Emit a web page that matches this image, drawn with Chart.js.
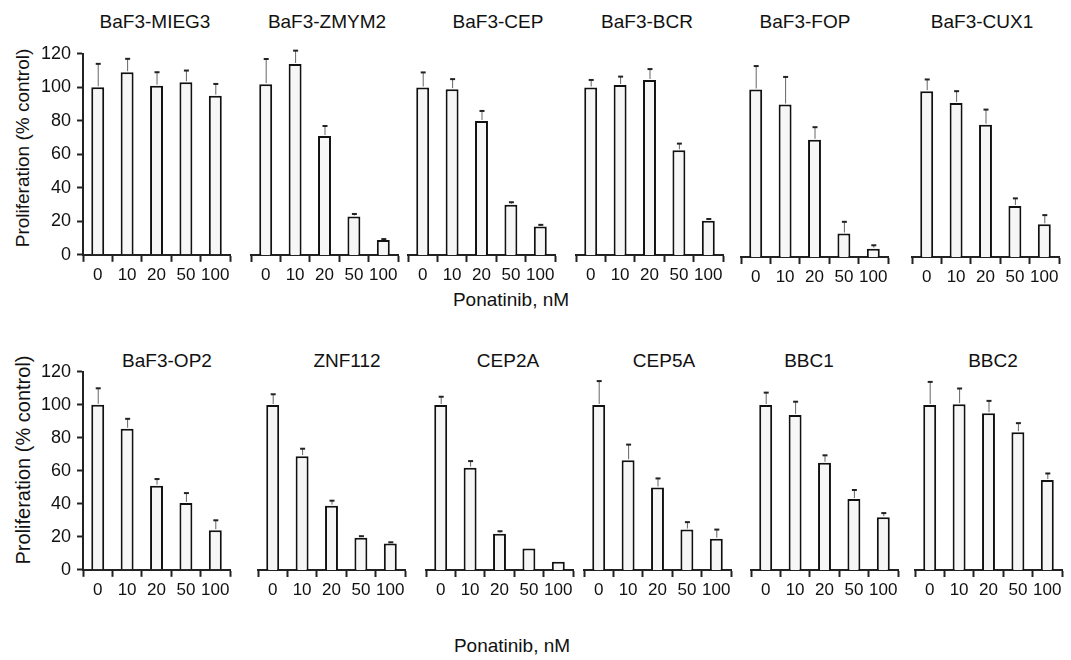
<!DOCTYPE html>
<html lang="en">
<head>
    <meta charset="UTF-8">
    <title>Ponatinib proliferation panels</title>
    <script src="https://cdn.jsdelivr.net/npm/chart.js"></script>
    <style>
        body { margin: 0; background: #fff; width: 1071px; height: 660px; position: relative; overflow: hidden;
               font-family: 'Liberation Sans', Arial, sans-serif; color: #111; }
        canvas { position: absolute; }
        .ptitle, .xlabel { position: absolute; font-size: 19px; white-space: nowrap; transform: translate(-50%, -50%); }
        .ylabel { position: absolute; font-size: 19px; white-space: nowrap; transform: translate(-50%, -50%) rotate(-90deg); }
    </style>
</head>
<body>
    <div class="ylabel" style="left:23px; top:148px;">Proliferation (% control)</div>
    <div class="ylabel" style="left:23px; top:460px; font-size:20px;">Proliferation (% control)</div>
    <div class="xlabel" style="left:511px; top:300px;">Ponatinib, nM</div>
    <div class="xlabel" style="left:512px; top:646px;">Ponatinib, nM</div>

    <script>
        // doses on the x axis
        const doses = ['0', '10', '20', '50', '100'];

        // mean proliferation (% control) and upper error (SD) per cell line
        const mieg3 = [100, 109, 101, 103, 95];
        const mieg3Sd = [14, 8, 8, 7, 7];
        const zmym2 = [102, 114, 71, 23, 9];
        const zmym2Sd = [15, 8, 6, 1.5, 0.5];
        const cep = [100, 99, 80, 30, 17];
        const cepSd = [9, 6, 6, 1.5, 1];
        const bcr = [100, 101.5, 104.5, 62.5, 20.5];
        const bcrSd = [4.5, 5, 6.5, 4, 1];
        const fop = [100, 91, 70, 14, 5];
        const fopSd = [14, 16.5, 7.5, 7, 2];
        const cux1 = [99, 92, 79, 30.5, 19.5];
        const cux1Sd = [7, 7, 9, 4.5, 5.5];

        const op2 = [100, 85.5, 51, 40.5, 24];
        const op2Sd = [10, 6, 4, 6, 6];
        const znf112 = [100, 69, 39, 19.5, 16];
        const znf112Sd = [6.5, 4.5, 3, 1, 0.8];
        const cep2a = [100, 62, 22, 13, 5];
        const cep2aSd = [5, 4, 1.5, 0, 0];
        const cep5a = [100, 66.5, 50, 24.5, 19];
        const cep5aSd = [14.5, 9.5, 5.5, 4.5, 5.5];
        const bbc1 = [100, 94, 65, 43, 32];
        const bbc1Sd = [7.5, 8, 4.5, 5.5, 2.5];
        const bbc2 = [100, 100.5, 95, 83.5, 54.5];
        const bbc2Sd = [14, 9.5, 7.5, 5.5, 4];

        const panelNames = ['BaF3-MIEG3', 'BaF3-ZMYM2', 'BaF3-CEP', 'BaF3-BCR', 'BaF3-FOP', 'BaF3-CUX1',
                            'BaF3-OP2', 'ZNF112', 'CEP2A', 'CEP5A', 'BBC1', 'BBC2'];
        const panelMeans = [mieg3, zmym2, cep, bcr, fop, cux1, op2, znf112, cep2a, cep5a, bbc1, bbc2];
        const panelSds = [mieg3Sd, zmym2Sd, cepSd, bcrSd, fopSd, cux1Sd, op2Sd, znf112Sd, cep2aSd, cep5aSd, bbc1Sd, bbc2Sd];

        // where each plot area sits on the page (axis left x, baseline y, size) and its title centre
        const layout = [
            { x: 83,  base: 255, w: 147, h: 201, tx: 155, ty: 22 },
            { x: 251, base: 255, w: 147, h: 201, tx: 327, ty: 22 },
            { x: 408, base: 255, w: 147, h: 201, tx: 498, ty: 22 },
            { x: 576, base: 255, w: 147, h: 201, tx: 647, ty: 22 },
            { x: 741, base: 257, w: 147, h: 201, tx: 805, ty: 22 },
            { x: 912, base: 257, w: 147, h: 201, tx: 982, ty: 22 },
            { x: 83,  base: 570, w: 147, h: 198, tx: 167, ty: 361 },
            { x: 258, base: 570, w: 147, h: 198, tx: 347, ty: 361 },
            { x: 426, base: 570, w: 147, h: 198, tx: 508, ty: 361 },
            { x: 584, base: 570, w: 147, h: 198, tx: 664, ty: 361 },
            { x: 751, base: 570, w: 147, h: 198, tx: 809, ty: 361 },
            { x: 915, base: 570, w: 147, h: 198, tx: 993, ty: 361 }
        ];

        Chart.defaults.font.family = "'Liberation Sans', Arial, sans-serif";
        Chart.defaults.color = '#111';

        // upper-only error bars
        const errorBars = {
            id: 'errorBars',
            afterDatasetsDraw(chart) {
                const ds = chart.data.datasets[0];
                const meta = chart.getDatasetMeta(0);
                const yScale = chart.scales.y;
                const ctx = chart.ctx;
                meta.data.forEach((bar, i) => {
                    const sd = ds.errors[i];
                    if (!sd) return;
                    const yTop = yScale.getPixelForValue(ds.data[i] + sd);
                    ctx.save();
                    ctx.strokeStyle = '#666';
                    ctx.lineWidth = 1;
                    ctx.beginPath();
                    ctx.moveTo(bar.x + 0.5, bar.y - 1);
                    ctx.lineTo(bar.x + 0.5, yTop);
                    ctx.stroke();
                    ctx.strokeStyle = '#222';
                    ctx.lineWidth = 2;
                    ctx.beginPath();
                    ctx.moveTo(bar.x - 2, yTop);
                    ctx.lineTo(bar.x + 3, yTop);
                    ctx.stroke();
                    ctx.restore();
                });
            }
        };

        panelNames.forEach((name, i) => {
            const pos = layout[i];
            const first = (i % 6 === 0);

            const title = document.createElement('div');
            title.className = 'ptitle';
            title.style.left = pos.tx + 'px';
            title.style.top = pos.ty + 'px';
            title.textContent = name;
            document.body.appendChild(title);

            const canvas = document.createElement('canvas');
            canvas.width = pos.w + 90;
            canvas.height = pos.h + 70;
            document.body.appendChild(canvas);

            const chart = new Chart(canvas, {
                type: 'bar',
                data: {
                    labels: doses,
                    datasets: [{
                        data: panelMeans[i],
                        errors: panelSds[i],
                        backgroundColor: '#f6f6f6',
                        borderColor: '#111',
                        borderWidth: 2,
                        barPercentage: 0.44,
                        categoryPercentage: 1
                    }]
                },
                options: {
                    responsive: false,
                    maintainAspectRatio: false,
                    animation: false,
                    layout: { padding: { top: 14, right: 6, left: 4, bottom: 0 } },
                    plugins: { legend: { display: false }, tooltip: { enabled: false } },
                    scales: {
                        x: {
                            offset: true,
                            grid: { offset: true, drawOnChartArea: false, drawTicks: true, tickLength: 7, tickWidth: 2, tickColor: '#222' },
                            border: { display: true, color: '#222', width: 2 },
                            ticks: { font: { size: 17 }, padding: 3, maxRotation: 0, autoSkip: false, color: '#111' }
                        },
                        y: {
                            display: first,
                            min: 0,
                            max: 120,
                            grid: { drawOnChartArea: false, drawTicks: true, tickLength: 6, tickWidth: 2, tickColor: '#222' },
                            border: { display: true, color: '#222', width: 2 },
                            ticks: { stepSize: 20, font: { size: 18 }, padding: 6, color: '#111' }
                        }
                    }
                },
                plugins: [errorBars]
            });

            // fit the plot area to the wanted size, then place it
            let area = chart.chartArea;
            const dw = pos.w - (area.right - area.left);
            const dh = pos.h - (area.bottom - area.top);
            chart.resize(chart.width + dw, chart.height + dh);
            area = chart.chartArea;
            canvas.style.left = (pos.x - area.left) + 'px';
            canvas.style.top = (pos.base - area.bottom) + 'px';
        });
    </script>
</body>
</html>
